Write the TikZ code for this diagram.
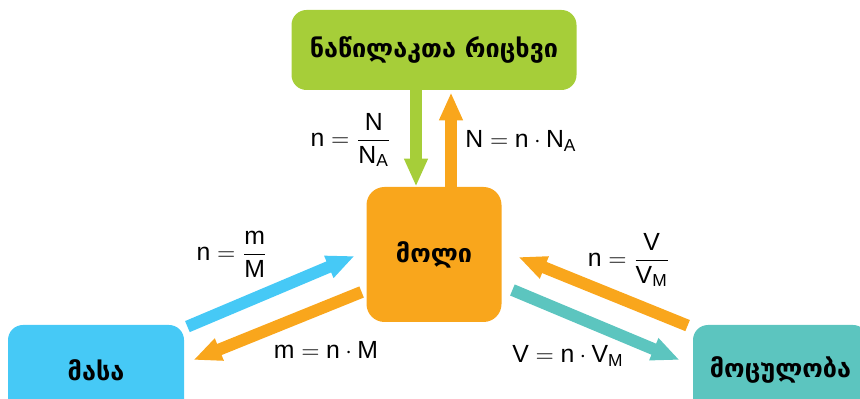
\documentclass[tikz,border=0pt]{standalone}
\usepackage{amsmath}
\usepackage{fontspec}
\setmainfont{Liberation Sans}
\newfontfamily\geofont{DejaVu Sans}
\usetikzlibrary{arrows.meta,positioning}

\definecolor{cgreen}{HTML}{A6CE39}
\definecolor{corange}{HTML}{F9A61C}
\definecolor{cblue}{HTML}{46C9F6}
\definecolor{cteal}{HTML}{5CC5BF}

\begin{document}
\begin{tikzpicture}[
  x=0.5pt, y=-0.5pt,
  box/.style={rounded corners=7.5pt, inner sep=0pt, align=center,
    font=\geofont\bfseries\fontsize{12.6}{14}\selectfont},
  eq/.style={inner sep=0pt, font=\fontsize{12.4}{14}\selectfont},
  flow/.style={-{Triangle[length=14pt, width=11pt]}, line width=6pt}
]
\useasboundingbox (0,0) rectangle (860,399);
\clip (0,0) rectangle (860,399);

\node[box, fill=cgreen, minimum width=142.5pt, minimum height=40pt] (count) at (434,50)
  {ნაწილაკთა რიცხვი};
\node[box, fill=corange, rounded corners=9pt, minimum width=67.5pt, minimum height=67.5pt] (mol) at (434,254.5)
  {მოლი};
\node[box, fill=cblue, minimum width=88pt, minimum height=45pt] (mass) at (96,370)
  {მასა};
\node[box, fill=cteal, minimum width=87.5pt, minimum height=45pt] (vol) at (780.5,370)
  {მოცულობა};

% top pair
\draw[flow, cgreen] ([xshift=-9pt]count.south) -- ([xshift=-9pt]mol.north);
\draw[flow, corange, shorten >=1pt] ([xshift=8.5pt]mol.north) -- ([xshift=8.5pt]count.south);
% left pair
\draw[flow, cblue] ([shift={(3,2)}]mass.north east) -- ([shift={(-11.5,1.5)}]mol.west);
\draw[flow, corange] ([shift={(-4.5,37.5)}]mol.west) -- ([shift={(9,-10)}]mass.east);
% right pair
\draw[flow, corange] ([shift={(-5,1)}]vol.north west) -- ([shift={(16.5,2.5)}]mol.east);
\draw[flow, cteal] ([shift={(10.5,35.5)}]mol.east) -- ([shift={(-13,-10)}]vol.west);

% formulas
\node[eq] (eqNa) at (351,140) {$\text{n} = \dfrac{\text{N}}{\text{N}_{\text{A}}}$};
\node[eq] (eqN) at (521,141) {$\text{N} = \text{n}\cdot\text{N}_{\text{A}}$};
\node[eq] (eqm) at (232,254) {$\text{n} = \dfrac{\text{m}}{\text{M}}$};
\node[eq] (eqmass) at (326,350) {$\text{m} = \text{n}\cdot\text{M}$};
\node[eq] (eqV) at (629,260) {$\text{n} = \dfrac{\text{V}}{\text{V}_{\text{M}}}$};
\node[eq] (eqvol) at (568,356) {$\text{V} = \text{n}\cdot\text{V}_{\text{M}}$};
\end{tikzpicture}
\end{document}
